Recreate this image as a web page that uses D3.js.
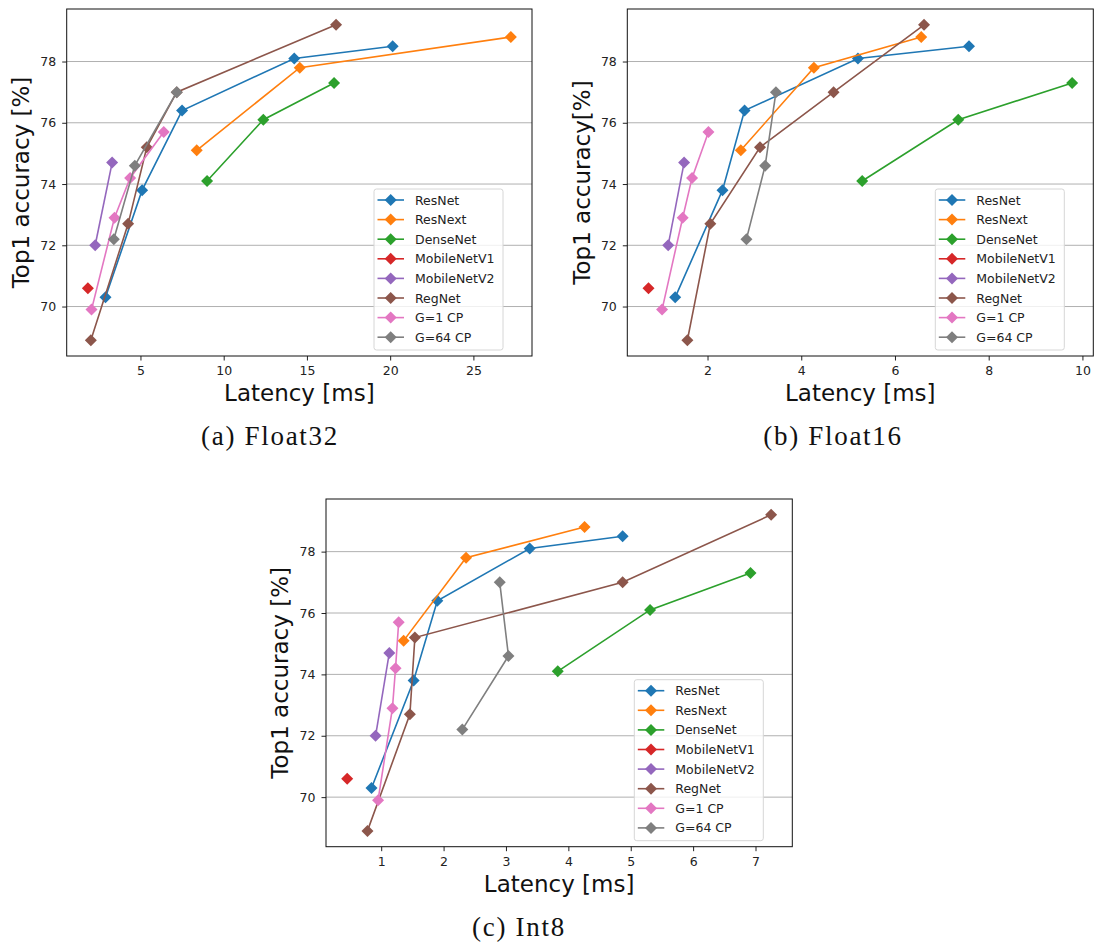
<!DOCTYPE html>
<html>
<head>
<meta charset="utf-8">
<script src="https://cdn.jsdelivr.net/npm/d3@7"></script>
<style>
  body { margin: 0; background: #fff; }
  svg { display: block; }
</style>
</head>
<body>
<script>
// model names and colours (matplotlib tab10 order)
const models = ["ResNet", "ResNext", "DenseNet", "MobileNetV1", "MobileNetV2", "RegNet", "G=1 CP", "G=64 CP"];
const colors = ["#1f77b4", "#ff7f0e", "#2ca02c", "#d62728", "#9467bd", "#8c564b", "#e377c2", "#7f7f7f"];

// top1 accuracy, same for every precision
const accResNet = [70.3, 73.8, 76.4, 78.1, 78.5];
const accResNext = [75.1, 77.8, 78.8];
const accDenseNet = [74.1, 76.1, 77.3];
const accMobileV1 = [70.6];
const accMobileV2 = [72.0, 74.7];
const accRegNet = [68.9, 72.7, 75.2, 77.0, 79.2];
const accG1 = [69.9, 72.9, 74.2, 75.7];
const accG64 = [72.2, 74.6, 77.0];

// latency [ms], Float32
const f32ResNet = [2.9, 5.1, 7.5, 14.24, 20.15];
const f32ResNext = [8.38, 14.57, 27.25];
const f32DenseNet = [9.0, 12.38, 16.63];
const f32MobileV1 = [1.84];
const f32MobileV2 = [2.28, 3.3];
const f32RegNet = [2.02, 4.26, 5.38, 7.18, 16.75];
const f32G1 = [2.06, 3.44, 4.38, 6.4];
const f32G64 = [3.4, 4.66, 7.18];

// latency [ms], Float16
const f16ResNet = [1.31, 2.32, 2.79, 5.21, 7.58];
const f16ResNext = [2.71, 4.27, 6.56];
const f16DenseNet = [5.30, 7.35, 9.78];
const f16MobileV1 = [0.74];
const f16MobileV2 = [1.16, 1.50];
const f16RegNet = [1.57, 2.06, 3.12, 4.69, 6.62];
const f16G1 = [1.03, 1.47, 1.67, 2.02];
const f16G64 = [2.83, 3.23, 3.46];

// latency [ms], Int8
const i8ResNet = [0.845, 1.52, 1.90, 3.38, 4.87];
const i8ResNext = [1.36, 2.36, 4.26];
const i8DenseNet = [3.83, 5.31, 6.92];
const i8MobileV1 = [0.455];
const i8MobileV2 = [0.91, 1.13];
const i8RegNet = [0.78, 1.46, 1.54, 4.87, 7.25];
const i8G1 = [0.95, 1.18, 1.23, 1.28];
const i8G64 = [2.30, 3.04, 2.90];

// tick labels
const yTicks = [70, 72, 74, 76, 78];
const xTicksF32 = [5, 10, 15, 20, 25];
const xTicksF16 = [2, 4, 6, 8, 10];
const xTicksI8 = [1, 2, 3, 4, 5, 6, 7];

const accAll = [accResNet, accResNext, accDenseNet, accMobileV1, accMobileV2, accRegNet, accG1, accG64];

const width = 1094, height = 947;
const svg = d3.select("body").append("svg")
    .attr("width", width)
    .attr("height", height)
    .style("font-family", "'DejaVu Sans', sans-serif");

// zip latencies with accuracies
function buildSeries(lats) {
    return models.map((m, i) => ({
        name: m,
        color: colors[i],
        pts: lats[i].map((x, j) => ({ x: x, y: accAll[i][j] }))
    }));
}

// domain with 5% padding, like matplotlib autoscale
function padded(vals) {
    const [lo, hi] = d3.extent(vals);
    const m = (hi - lo) * 0.05;
    return [lo - m, hi + m];
}

const diamond = (cx, cy, r) =>
    "M" + cx + "," + (cy - r) + "L" + (cx + r) + "," + cy + "L" + cx + "," + (cy + r) + "L" + (cx - r) + "," + cy + "Z";

function drawPanel(opt) {
    const series = buildSeries(opt.lats);
    const allX = series.flatMap(s => s.pts.map(p => p.x));
    const allY = series.flatMap(s => s.pts.map(p => p.y));

    const x = d3.scaleLinear().domain(padded(allX)).range([opt.left, opt.right]);
    const y = d3.scaleLinear().domain(padded(allY)).range([opt.bottom, opt.top]);

    const g = svg.append("g");

    // horizontal grid
    g.selectAll(".grid")
        .data(yTicks).enter()
        .append("line")
        .attr("x1", opt.left).attr("x2", opt.right)
        .attr("y1", d => y(d)).attr("y2", d => y(d))
        .style("stroke", "#b0b0b0")
        .style("stroke-width", 1);

    // axes
    const xAxis = g.append("g")
        .attr("transform", "translate(0," + opt.bottom + ")")
        .call(d3.axisBottom(x).tickValues(opt.xTicks).tickSize(4.5).tickPadding(6).tickFormat(d3.format("d")));
    const yAxis = g.append("g")
        .attr("transform", "translate(" + opt.left + ",0)")
        .call(d3.axisLeft(y).tickValues(yTicks).tickSize(4.5).tickPadding(6).tickFormat(d3.format("d")));
    [xAxis, yAxis].forEach(a => {
        a.select(".domain").remove();
        a.selectAll("text").style("font-size", "12.5px").style("fill", "#222")
            .style("font-family", "'DejaVu Sans', sans-serif");
        a.selectAll("line").style("stroke", "#222");
    });

    // lines + markers
    const line = d3.line().x(d => x(d.x)).y(d => y(d.y));
    series.forEach(s => {
        const sg = g.append("g");
        sg.append("path")
            .attr("d", line(s.pts))
            .attr("fill", "none")
            .attr("stroke", s.color)
            .attr("stroke-width", 1.6);
        sg.selectAll("path.mk")
            .data(s.pts).enter()
            .append("path")
            .attr("class", "mk")
            .attr("d", d => diamond(x(d.x), y(d.y), 6))
            .attr("fill", s.color);
    });

    // frame
    g.append("rect")
        .attr("x", opt.left).attr("y", opt.top)
        .attr("width", opt.right - opt.left).attr("height", opt.bottom - opt.top)
        .attr("fill", "none")
        .attr("stroke", "#111")
        .attr("stroke-width", 1);

    // legend
    const lw = 129, lh = 161;
    const lx = opt.right - 29 - lw, ly = opt.bottom - 6 - lh;
    const legend = g.append("g").attr("transform", "translate(" + lx + "," + ly + ")");
    legend.append("rect")
        .attr("width", lw).attr("height", lh)
        .attr("rx", 2.5)
        .attr("fill", "#fff").attr("fill-opacity", 0.8)
        .attr("stroke", "#d6d6d6");
    const items = legend.selectAll(".item")
        .data(series).enter()
        .append("g")
        .attr("transform", (d, i) => "translate(0," + (11 + i * 19.6) + ")");
    items.append("line")
        .attr("x1", 3.5).attr("x2", 30)
        .attr("stroke", d => d.color).attr("stroke-width", 1.6);
    items.append("path")
        .attr("d", diamond(16.7, 0, 6))
        .attr("fill", d => d.color);
    items.append("text")
        .attr("x", 41).attr("y", 4.5)
        .style("font-size", "12.5px")
        .style("fill", "#222")
        .text(d => d.name);

    // axis titles
    svg.append("text")
        .attr("x", (opt.left + opt.right) / 2)
        .attr("y", opt.bottom + 45)
        .attr("text-anchor", "middle")
        .style("font-size", "23px")
        .style("fill", "#111")
        .text("Latency [ms]");
    svg.append("text")
        .attr("transform", "translate(" + opt.yLabelX + "," + ((opt.top + opt.bottom) / 2) + ") rotate(-90)")
        .attr("text-anchor", "middle")
        .style("font-size", "23px")
        .style("fill", "#111")
        .text(opt.yLabel);

    // caption
    svg.append("text")
        .attr("x", opt.capX)
        .attr("y", opt.bottom + 89)
        .attr("text-anchor", "middle")
        .style("font-family", "'Liberation Serif', 'Times New Roman', serif")
        .style("font-size", "27px")
        .style("letter-spacing", "1.7px")
        .style("fill", "#111")
        .text(opt.caption);
}

drawPanel({
    lats: [f32ResNet, f32ResNext, f32DenseNet, f32MobileV1, f32MobileV2, f32RegNet, f32G1, f32G64],
    xTicks: xTicksF32,
    left: 66.7, right: 532, top: 9, bottom: 356,
    yLabel: "Top1 accuracy [%]", yLabelX: 29,
    caption: "(a) Float32", capX: 270
});
drawPanel({
    lats: [f16ResNet, f16ResNext, f16DenseNet, f16MobileV1, f16MobileV2, f16RegNet, f16G1, f16G64],
    xTicks: xTicksF16,
    left: 627.3, right: 1093.3, top: 9, bottom: 356,
    yLabel: "Top1 accuracy[%]", yLabelX: 590,
    caption: "(b) Float16", capX: 833
});
drawPanel({
    lats: [i8ResNet, i8ResNext, i8DenseNet, i8MobileV1, i8MobileV2, i8RegNet, i8G1, i8G64],
    xTicks: xTicksI8,
    left: 326, right: 792.3, top: 499, bottom: 846.7,
    yLabel: "Top1 accuracy [%]", yLabelX: 288,
    caption: "(c) Int8", capX: 519
});
</script>
</body>
</html>
